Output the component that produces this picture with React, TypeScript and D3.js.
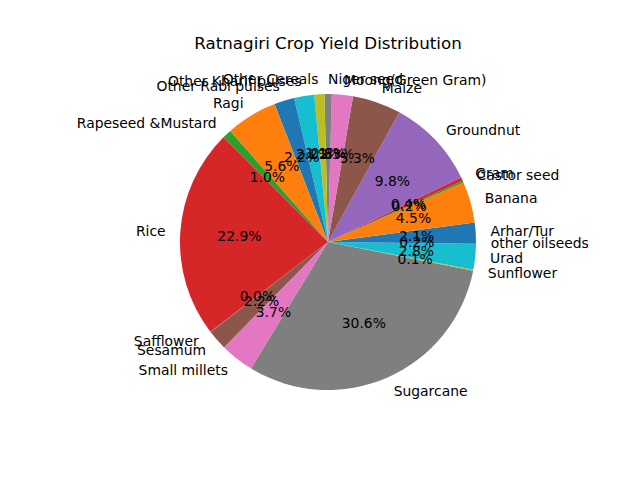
import React from "react";
import * as d3 from "d3";

const crops = [
  "Arhar/Tur", "Banana", "Castor seed", "Gram", "Groundnut", "Maize",
  "Moong(Green Gram)", "Niger seed", "Other Cereals", "Other Kharif pulses",
  "Other Rabi pulses", "Ragi", "Rapeseed &Mustard", "Rice", "Safflower",
  "Sesamum", "Small millets", "Sugarcane", "Sunflower", "Urad", "other oilseeds",
];
const shares = [
  2.1, 4.5, 0.2, 0.4, 9.8, 5.3, 2.3, 0.8, 1.1, 2.2, 2.2, 5.6, 1.0, 22.9,
  0.04, 2.2, 3.7, 30.6, 0.1, 2.8, 0.2,
];
const tab10 = [
  "#1f77b4", "#ff7f0e", "#2ca02c", "#d62728", "#9467bd",
  "#8c564b", "#e377c2", "#7f7f7f", "#bcbd22", "#17becf",
];

const W = 640, H = 480;
const CX = 328, CY = 242, R = 148;

export default function App() {
  const pie = d3.pie<number>().sort(null).startAngle(Math.PI / 2).endAngle(Math.PI / 2 - 2 * Math.PI);
  const arcs = pie(shares);
  const arc = d3.arc<d3.PieArcDatum<number>>().innerRadius(0).outerRadius(R);
  const total = d3.sum(shares);
  const font = "DejaVu Sans, sans-serif";

  return (
    <svg width={W} height={H} style={{ position: "absolute", left: 0, top: 0, background: "#fff" }}>
      <text x={CX} y={49} textAnchor="middle" fontFamily={font} fontSize={16.7}>
        Ratnagiri Crop Yield Distribution
      </text>
      <g transform={`translate(${CX},${CY})`}>
        {arcs.map((a, i) => (
          <path key={i} d={arc(a) ?? ""} fill={tab10[i % 10]} />
        ))}
        {arcs.map((a, i) => {
          const m = (a.startAngle + a.endAngle) / 2;
          const sx = Math.sin(m), sy = -Math.cos(m);
          return (
            <g key={i} fontFamily={font} fontSize={13.9}>
              <text x={sx * R * 1.1} y={sy * R * 1.1} dy="0.35em" textAnchor={sx > 0 ? "start" : "end"}>
                {crops[i]}
              </text>
              <text x={sx * R * 0.6} y={sy * R * 0.6} dy="0.35em" textAnchor="middle">
                {((shares[i] / total) * 100).toFixed(1)}%
              </text>
            </g>
          );
        })}
      </g>
    </svg>
  );
}
